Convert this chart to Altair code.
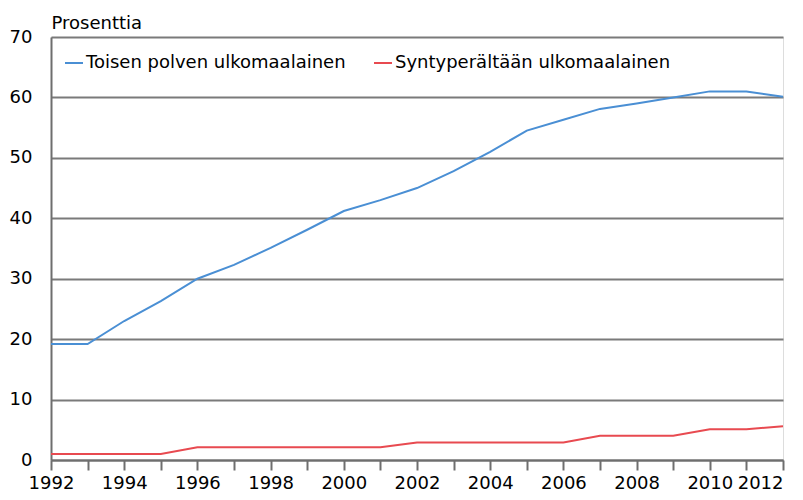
import altair as alt
import pandas as pd

years = list(range(1992, 2013))
toisen = [19.2, 19.2, 23.0, 26.3, 30.0, 32.3, 35.1, 38.1, 41.2, 43.0, 45.0,
          47.8, 51.0, 54.5, 56.3, 58.1, 59.0, 60.0, 61.0, 61.0, 60.1]
synty = [1.0, 1.0, 1.0, 1.0, 2.1, 2.1, 2.1, 2.1, 2.1, 2.1, 2.9,
         2.9, 2.9, 2.9, 2.9, 4.0, 4.0, 4.0, 5.1, 5.1, 5.6]
series = ["Toisen polven ulkomaalainen", "Syntyperältään ulkomaalainen"]
colors = ["#4a8fd4", "#e84a50"]
y_ticks = [0, 10, 20, 30, 40, 50, 60, 70]

rows = []
for i, yr in enumerate(years):
    rows.append({"Vuosi": yr, "Arvo": toisen[i], "Sarja": series[0]})
    rows.append({"Vuosi": yr, "Arvo": synty[i], "Sarja": series[1]})
df = pd.DataFrame(rows)

FONT = "DejaVu Sans"
AX = "#6e6e6e"

chart = alt.Chart(df).mark_line(strokeWidth=2).encode(
    x=alt.X("Vuosi:Q",
            scale=alt.Scale(domain=[1992, 2012], nice=False, zero=False),
            axis=alt.Axis(values=years, title=None, grid=False,
                          labelExpr="datum.value % 2 == 0 ? datum.value : ''",
                          labelFlush=False, labelOverlap=False,
                          labelAlign={"condition": {"test": "datum.value == 2012",
                                                    "value": "right"},
                                      "value": "center"},
                          tickSize=10, tickWidth=2, tickColor=AX,
                          domainColor=AX, domainWidth=2,
                          labelPadding=4, labelFontSize=18, labelFont=FONT,
                          labelColor="#000")),
    y=alt.Y("Arvo:Q",
            scale=alt.Scale(domain=[0, 70], nice=False),
            axis=alt.Axis(values=y_ticks, title="Prosenttia", titleAngle=0,
                          titleX=0, titleY=-9, titleAlign="left",
                          titleBaseline="alphabetic", titleFontSize=18,
                          titleFont=FONT, titleFontWeight="normal",
                          titleColor="#000",
                          grid=True, gridColor="#7a7a7a", gridWidth=2,
                          ticks=False, labelPadding=19, labelFontSize=18,
                          labelFont=FONT, labelColor="#000",
                          domainColor=AX, domainWidth=2)),
    color=alt.Color("Sarja:N",
                    scale=alt.Scale(domain=series, range=colors),
                    sort=series,
                    legend=alt.Legend(title=None, orient="none",
                                      direction="horizontal",
                                      legendX=13, legendY=16,
                                      symbolType="stroke", symbolSize=324,
                                      symbolStrokeWidth=2, labelOffset=2,
                                      columnPadding=24, labelFontSize=18,
                                      labelFont=FONT, labelColor="#000",
                                      labelLimit=0, padding=0)),
).properties(
    width=732, height=423,
    autosize=alt.AutoSizeParams(type="none"),
    padding={"left": 43, "top": 29, "right": 12, "bottom": 32},
).configure_view(
    stroke=AX, strokeWidth=2
).configure(
    background="white"
)

chart.save("out.html", embed_options={"renderer": "svg", "actions": False})
